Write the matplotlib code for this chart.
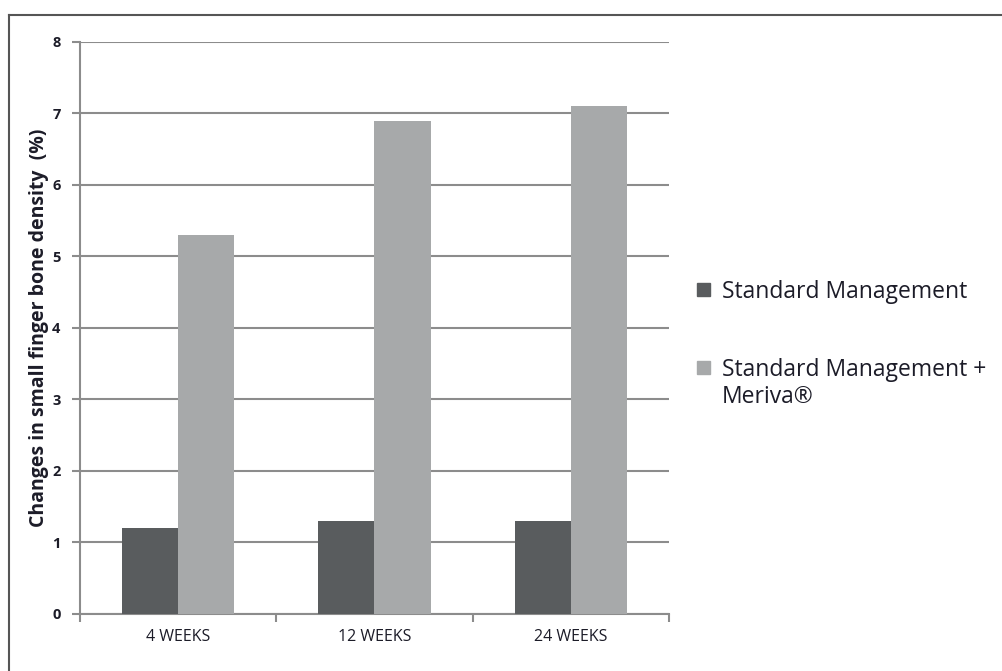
import matplotlib.pyplot as plt
import matplotlib.lines as mlines
import matplotlib.patches as mpatches
import numpy as np

plt.rcParams['font.family'] = ['Open Sans', 'DejaVu Sans']

categories = ['4 WEEKS', '12 WEEKS', '24 WEEKS']
standard = [1.2, 1.3, 1.3]
meriva = [5.3, 6.9, 7.1]
labels = ['Standard Management', 'Standard Management +\nMeriva®']

dark = '#595c5e'
light = '#a7a9aa'
grid = '#8c8c8c'
txt = '#1c1c28'

W, H = 1003, 671
fig = plt.figure(figsize=(W / 100, H / 100), dpi=100)
ax = fig.add_axes([0.0798, 0.085, 0.587, 0.8525])

x = np.arange(len(categories))
w = 0.286
ax.bar(x - w / 2, standard, w, color=dark, zorder=3)
ax.bar(x + w / 2, meriva, w, color=light, zorder=3)

ax.set_xlim(-0.5, 2.5)
ax.set_ylim(0, 8)
ax.set_yticks(range(9))
ax.yaxis.grid(True, color=grid, linewidth=1.5, zorder=0)
ax.set_xticks(x)
ax.set_xticklabels(categories, fontsize=11.5, color=txt)
ax.set_xticks([-0.5, 0.5, 1.5, 2.5], minor=True)
ax.tick_params(axis='x', which='major', length=0, pad=11)
ax.tick_params(axis='x', which='minor', length=6, color=grid, width=1.5)
ax.tick_params(axis='y', length=6, color=grid, width=1.5, labelsize=10.5,
               labelcolor=txt, pad=8)
for t in ax.get_yticklabels():
    t.set_fontweight('bold')
for s in ['top', 'right']:
    ax.spines[s].set_visible(False)
for s in ['left', 'bottom']:
    ax.spines[s].set_color(grid)
    ax.spines[s].set_linewidth(1.5)

ax.set_ylabel('Changes in small finger bone density  (%)', fontsize=14,
              fontweight='bold', color=txt, labelpad=2)

# legend drawn by hand so the square sits on the first line of the label
for lab, col, yc in zip(labels, [dark, light], [289, 367]):
    fig.add_artist(mpatches.Rectangle((697 / W, 1 - (yc + 6.5) / H), 13 / W, 13 / H,
                                      color=col, transform=fig.transFigure))
    fig.text(722 / W, 1 - (yc - 9.5) / H, lab, fontsize=16.5, color=txt,
             va='top', ha='left', linespacing=1.2)

# outer frame, only left and top edges show in the crop
fig.add_artist(mlines.Line2D([0.009, 0.009], [0, 0.978], color='#555555',
                             linewidth=1.5, transform=fig.transFigure))
fig.add_artist(mlines.Line2D([0.009, 1.0], [0.978, 0.978], color='#555555',
                             linewidth=1.5, transform=fig.transFigure))

fig.savefig('out.png', dpi=100)
